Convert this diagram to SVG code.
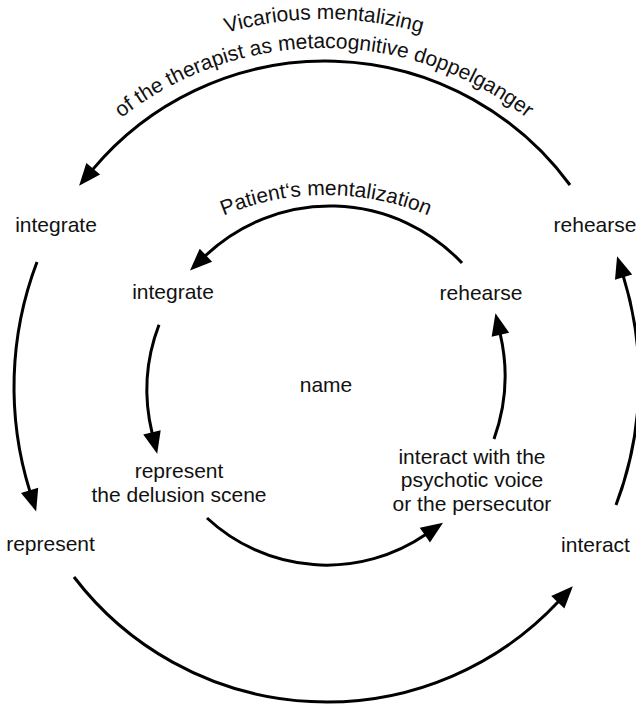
<svg xmlns="http://www.w3.org/2000/svg" width="636" height="707" viewBox="0 0 636 707">
<defs>
<style>
.lbl{font-family:"Liberation Sans",Arial,sans-serif;font-size:21px;fill:#111;text-anchor:middle}
.conn{fill:none;stroke:#000;stroke-width:3;marker-end:url(#arrow)}
</style>
<marker id="arrow" markerUnits="userSpaceOnUse" markerWidth="22" markerHeight="18" viewBox="0 0 22 18" refX="1" refY="9" orient="auto" overflow="visible">
<path d="M0,0 L22,9 L0,18 Z" fill="#000"/>
</marker>
<path id="tp1" d="M-34,377 A358,358 0 0 1 682,377"/>
<path id="tp2" d="M-5,377 A329,329 0 0 1 653,377"/>
<path id="tp3" d="M60,461 A266,266 0 0 1 592,461"/>
</defs>
<rect width="636" height="707" fill="#fff"/>
<g id="connectors">
<path class="conn" d="M570,185 A303.6,303.6 0 0 0 92.6,169.6"/>
<path class="conn" d="M37,262 A351,351 0 0 0 29.9,491.4"/>
<path class="conn" d="M74,577 A317.8,317.8 0 0 0 558.5,601.5"/>
<path class="conn" d="M616,505 A351,351 0 0 0 623.3,276.2"/>
<path class="conn" d="M462,263 A181,181 0 0 0 205.2,255.9"/>
<path class="conn" d="M159,324.7 A183,183 0 0 0 152.2,433.3"/>
<path class="conn" d="M207,518 A175.5,175.5 0 0 0 425.7,534.5"/>
<path class="conn" d="M494,439 A186,186 0 0 0 500.2,333.8"/>
</g>
<g id="label-vicarious">
<text class="lbl"><textPath href="#tp1" startOffset="50%">Vicarious mentalizing</textPath></text>
<text class="lbl"><textPath href="#tp2" startOffset="50%">of the therapist as metacognitive doppelganger</textPath></text>
</g>
<g id="label-patient">
<text class="lbl"><textPath href="#tp3" startOffset="50%">Patient‘s mentalization</textPath></text>
</g>
<g id="outer-integrate"><text class="lbl" x="56" y="232">integrate</text></g>
<g id="outer-rehearse"><text class="lbl" x="595" y="232">rehearse</text></g>
<g id="outer-represent"><text class="lbl" x="50.5" y="551">represent</text></g>
<g id="outer-interact"><text class="lbl" x="595.5" y="552">interact</text></g>
<g id="inner-integrate"><text class="lbl" x="173" y="299">integrate</text></g>
<g id="inner-rehearse"><text class="lbl" x="481" y="300">rehearse</text></g>
<g id="inner-represent"><text class="lbl" x="179" y="478">represent<tspan x="179" dy="24">the delusion scene</tspan></text></g>
<g id="inner-interact"><text class="lbl" x="472" y="463.5">interact with the<tspan x="472" dy="23.5">psychotic voice</tspan><tspan x="472" dy="23.5">or the persecutor</tspan></text></g>
<g id="center-name"><text class="lbl" x="326" y="392">name</text></g>
</svg>
